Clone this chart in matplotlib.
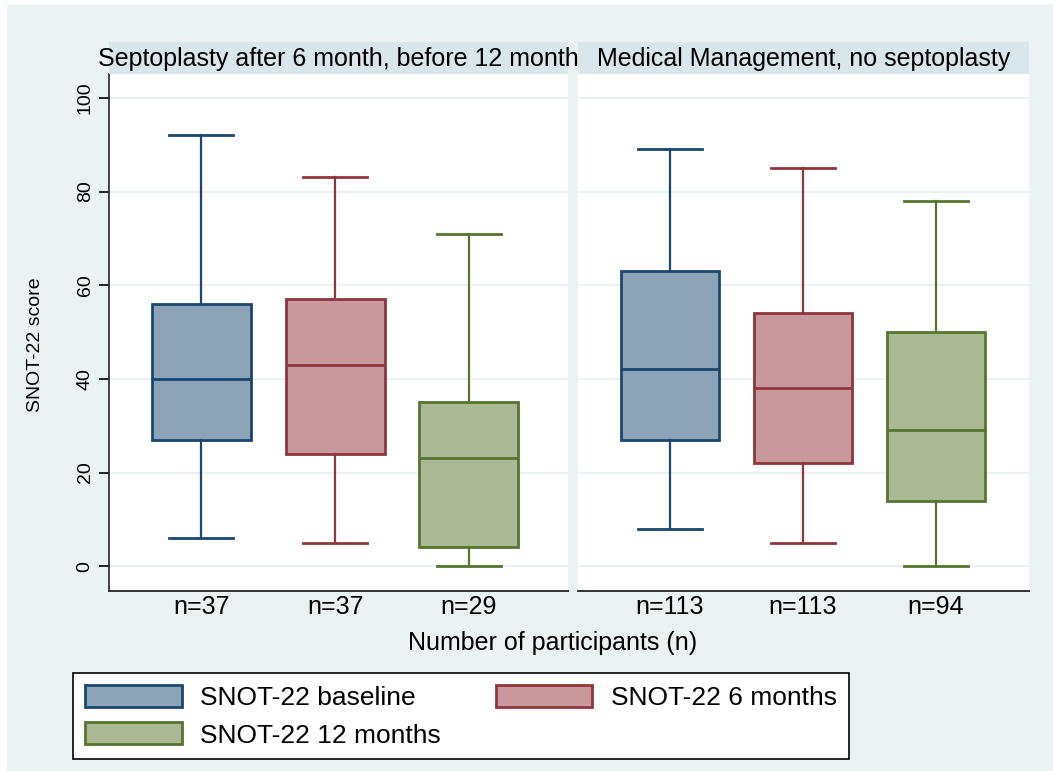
import matplotlib.pyplot as plt
from matplotlib.patches import Patch, Rectangle

plt.rcParams['font.family'] = ['Liberation Sans', 'DejaVu Sans']

# panel titles and category labels
panels = ['Septoplasty after 6 month, before 12 month', 'Medical Management, no septoplasty']
series = ['SNOT-22 baseline', 'SNOT-22 6 months', 'SNOT-22 12 months']
n_labels = [['n=37', 'n=37', 'n=29'], ['n=113', 'n=113', 'n=94']]

# box statistics: lower whisker, q1, median, q3, upper whisker
whislo = [[6, 5, 0], [8, 5, 0]]
q1 = [[27, 24, 4], [27, 22, 14]]
med = [[40, 43, 23], [42, 38, 29]]
q3 = [[56, 57, 35], [63, 54, 50]]
whishi = [[92, 83, 71], [89, 85, 78]]

edge_colors = ['#1a476f', '#90353b', '#55752f']
fill_colors = ['#8da3b8', '#c8999c', '#aab994']
bg = '#eaf2f3'
strip = '#d9e6eb'

W, H = 1053, 771
fig = plt.figure(figsize=(W / 100, H / 100), dpi=100)
fig.patch.set_facecolor('white')
fig.patches.append(Rectangle((7 / W, 0), 1, 1 - 5 / H, transform=fig.transFigure,
                             facecolor=bg, edgecolor='none', zorder=-10))

panel_x = [(109, 568), (578, 1029)]
top, bottom = 74, 591

for p in range(2):
    x0, x1 = panel_x[p]
    ax = fig.add_axes([x0 / W, 1 - bottom / H, (x1 - x0) / W, (bottom - top) / H])
    ax.set_facecolor('white')
    stats = []
    for i in range(3):
        stats.append(dict(whislo=whislo[p][i], q1=q1[p][i], med=med[p][i],
                          q3=q3[p][i], whishi=whishi[p][i], fliers=[]))
    bp = ax.bxp(stats, positions=[1, 2, 3], widths=0.74, capwidths=0.48,
                patch_artist=True, showfliers=False)
    for i in range(3):
        bp['boxes'][i].set_facecolor(fill_colors[i])
        bp['boxes'][i].set_edgecolor(edge_colors[i])
        bp['boxes'][i].set_linewidth(2)
        bp['medians'][i].set_color(edge_colors[i])
        bp['medians'][i].set_linewidth(2)
        for k in (2 * i, 2 * i + 1):
            bp['whiskers'][k].set_color(edge_colors[i])
            bp['whiskers'][k].set_linewidth(1.6)
            bp['caps'][k].set_color(edge_colors[i])
            bp['caps'][k].set_linewidth(2)
    ax.set_xlim(0.31, 3.74 if p == 0 else 3.7)
    ax.set_ylim(-5.3, 105.1)
    ax.set_yticks([0, 20, 40, 60, 80, 100])
    ax.yaxis.grid(True, color=bg, linewidth=1.6)
    ax.set_axisbelow(True)
    ax.set_xticks([1, 2, 3])
    ax.set_xticklabels(n_labels[p], fontsize=18)
    ax.tick_params(axis='x', length=0, pad=3)
    for s in ('top', 'right'):
        ax.spines[s].set_visible(False)
    ax.spines['bottom'].set_color('#333333')
    ax.spines['bottom'].set_linewidth(1.4)
    if p == 0:
        ax.spines['left'].set_color('#222222')
        ax.spines['left'].set_linewidth(1.2)
        ax.tick_params(axis='y', length=7, width=1.2, labelsize=14, pad=4)
        for lab in ax.get_yticklabels():
            lab.set_rotation(90)
            lab.set_va('center')
    else:
        ax.spines['left'].set_visible(False)
        ax.tick_params(axis='y', length=0, labelleft=False)

    # header strip
    hx = fig.add_axes([x0 / W, 1 - top / H, (x1 - x0) / W, 32 / H])
    hx.set_facecolor(strip)
    hx.set_xticks([])
    hx.set_yticks([])
    for s in hx.spines.values():
        s.set_visible(False)
    hx.text(0.5, 0.48, panels[p], ha='center', va='center', fontsize=18,
            transform=hx.transAxes, clip_on=False)

fig.text(553 / W, 1 - 643 / H, 'Number of participants (n)', ha='center', va='center', fontsize=18)
fig.text(35 / W, 1 - 345 / H, 'SNOT-22 score', ha='center', va='center', rotation=90, fontsize=14)

handles = [Patch(facecolor=fill_colors[i], edgecolor=edge_colors[i], linewidth=2) for i in range(3)]
order = [0, 2, 1]
leg = fig.legend([handles[i] for i in order], [series[i] for i in order], ncol=2,
                 loc='upper left', bbox_to_anchor=(73 / W, 1 - 673 / H),
                 fontsize=19, frameon=True, fancybox=False, handlelength=3.67, handleheight=0.91,
                 handletextpad=0.7, borderpad=0.45, labelspacing=0.47, columnspacing=2.07,
                 borderaxespad=0, framealpha=1)
leg.get_frame().set_edgecolor('black')
leg.get_frame().set_facecolor('white')
leg.get_frame().set_linewidth(1.2)

fig.savefig('out.png', dpi=100)
